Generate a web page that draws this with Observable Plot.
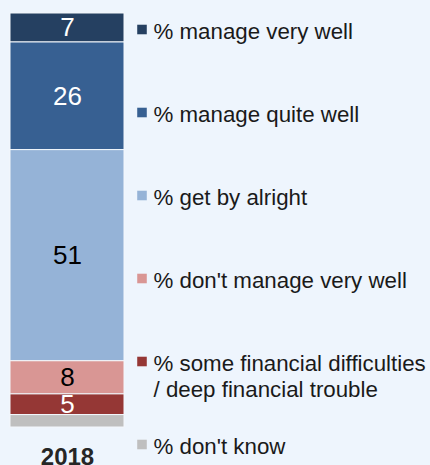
<!DOCTYPE html>
<html>
<head>
<meta charset="utf-8">
<script src="https://cdn.jsdelivr.net/npm/d3@7"></script>
<script src="https://cdn.jsdelivr.net/npm/@observablehq/plot@0.6"></script>
<style>
  html, body { margin: 0; padding: 0; background: #eef5fd; }
  #chart { position: relative; width: 430px; height: 465px; background: #eef5fd; overflow: hidden; }
  #chart svg { position: absolute; top: 0; left: 0; }
</style>
</head>
<body>
<div id="chart"></div>
<script>
// ---- data ----
const years = ["2018"];
const categories = [
  "% manage very well",
  "% manage quite well",
  "% get by alright",
  "% don't manage very well",
  "% some financial difficulties / deep financial trouble",
  "% don't know"
];
const values2018 = [7, 26, 51, 8, 5, 3];

// ---- palette (scale range) ----
const palette = ["#254061", "#376092", "#95b3d7", "#d99694", "#953735", "#bfbfbf"];

const data = categories.map((cat, i) => ({year: years[0], cat, value: values2018[i]}));
const colorOf = d3.scaleOrdinal(categories, palette);
const font = "'Liberation Sans', Arial, Helvetica, sans-serif";

const bars = Plot.plot({
  width: 430,
  height: 465,
  marginTop: 13,
  marginBottom: 38,
  marginLeft: 10,
  marginRight: 306,
  style: {background: "transparent", fontFamily: font},
  x: {type: "band", domain: years, padding: 0, axis: null},
  y: {domain: [0, 100], axis: null},
  color: {domain: categories, range: palette},
  marks: [
    Plot.barY(data, {
      x: "year", y: "value", fill: "cat", reverse: true,
      stroke: "#f3f7fc", strokeWidth: 1
    }),
    Plot.text(data, Plot.stackY({
      x: "year", y: "value", z: "cat", reverse: true,
      text: d => d.value >= 5 ? String(d.value) : null,
      fill: d => d3.lab(colorOf(d.cat)).l < 50 ? "white" : "black",
      fontSize: 26
    })),
    Plot.axisX({
      tickSize: 0, tickPadding: 20, fontSize: 24, fontWeight: "bold",
      fill: "#262626", label: null
    })
  ]
});

const legend = Plot.plot({
  width: 430,
  height: 465,
  margin: 0,
  style: {background: "transparent", fontFamily: font},
  y: {type: "point", domain: categories, range: [27, 446], padding: 0, axis: null},
  color: {domain: categories, range: palette},
  marks: [
    Plot.dot(categories, {
      y: d => d, fill: d => d, symbol: "square", r: 5.4,
      frameAnchor: "left", dx: 141.5
    }),
    Plot.text(categories, {
      y: d => d, text: d => d.replace(" / ", "\n/ "), frameAnchor: "left", dx: 153,
      textAnchor: "start", lineAnchor: "top", dy: -9,
      fontSize: 22.3, lineHeight: 1.18, fill: "#1a1a1a"
    })
  ]
});

const chart = document.getElementById("chart");
chart.appendChild(bars);
chart.appendChild(legend);
</script>
</body>
</html>
